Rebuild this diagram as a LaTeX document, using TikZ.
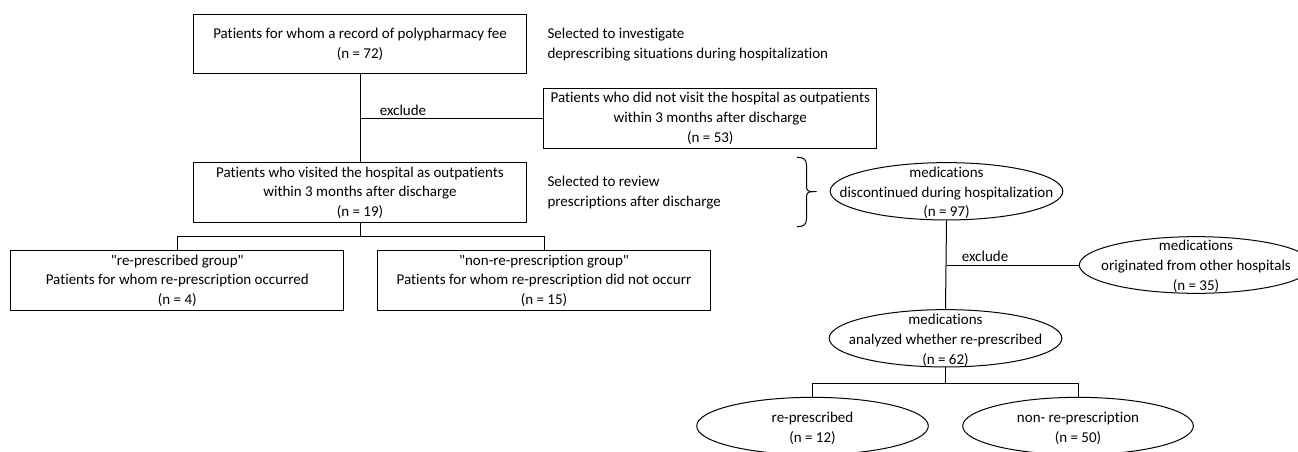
\documentclass[tikz,border=0pt]{standalone}
\usepackage{fontspec}
\setmainfont[RawFeature={-liga}]{Carlito}
\usetikzlibrary{shapes.geometric}
\begin{document}
\begin{tikzpicture}[x=0.75pt,y=-0.75pt,
  font=\fontsize{11.25}{14.8}\selectfont,
  line width=0.75pt,
  rbox/.style={draw, rectangle, inner sep=0pt, align=center,
     minimum width=250pt, minimum height=44.6pt},
  ell/.style={draw, ellipse, inner sep=0pt, minimum width=174.5pt, minimum height=43pt},
  etxt/.style={inner sep=0pt, align=center},
  side/.style={inner sep=0pt, align=left, anchor=west},
  lbl/.style={inner sep=0pt}]
\useasboundingbox (0,0) rectangle (1298,452);
\clip (0,0) rectangle (1298,452);
\fill[white] (0,0) rectangle (1298,452);

% left column
\node[rbox] (b1) at (360,44.2) {Patients for whom a record of polypharmacy fee\\(n = 72)};
\node[side] (s1) at (547,44.5) {Selected to investigate\\deprescribing situations during hospitalization};
\node[rbox] (bx) at (710.3,118.5) {Patients who did not visit the hospital as outpatients\\within 3 months after discharge\\(n = 53)};
\node[rbox] (b2) at (360,192.7) {Patients who visited the hospital as outpatients\\within 3 months after discharge\\(n = 19)};
\node[side] (s2) at (547,192.5) {Selected to review\\prescriptions after discharge};
\node[rbox] (b3) at (177.3,280.7) {\textquotedbl re-prescribed group\textquotedbl\\Patients for whom re-prescription occurred\\(n = 4)};
\node[rbox] (b4) at (544,280.7) {\textquotedbl non-re-prescription group\textquotedbl\\Patients for whom re-prescription did not occurr\\(n = 15)};

\coordinate (j1) at (b1.south |- bx.west);
\draw (b1.south) -- (b2.north);
\draw (j1) -- (bx.west);
\node[lbl] (x1) at (403,110) {exclude};

\coordinate (br1) at (360,236.7);
\draw (b2.south) -- (br1);
\draw (b3.north) |- (br1) -| (b4.north);

% brace
\draw (797,157.3) .. controls (803,157.3) and (806.5,159) .. (806.5,165)
  -- (806.5,186) .. controls (806.5,190) and (808,191.7) .. (812,191.7) -- (816.6,191.7);
\draw (812,191.7) .. controls (808,191.7) and (806.5,193.4) .. (806.5,197.4)
  -- (806.5,219) .. controls (806.5,225) and (803,226.7) .. (797,226.7);

% right column
\node[ell] (e1) at (946.5,191.3) {};
\node[etxt] (e1t) at (946.5,193) {medications\\discontinued during hospitalization\\(n = 97)};
\node[ell, minimum width=175pt, minimum height=42.5pt] (e2) at (1196,265) {};
\node[etxt] (e2t) at (1196,266.5) {medications\\originated from other hospitals\\(n = 35)};
\node[ell] (e3) at (945.5,338.3) {};
\node[etxt] (e3t) at (945.5,340.5) {medications\\analyzed whether re-prescribed\\(n = 62)};
\node[ell, minimum width=173.7pt] (e4) at (812.5,426) {};
\node[etxt] (e4t) at (812.5,428.5) {re-prescribed\\(n = 12)};
\node[ell, minimum width=173pt] (e5) at (1078,426) {};
\node[etxt] (e5t) at (1078,428.5) {non- re-prescription\\(n = 50)};

\coordinate (j2) at (e1.south |- e2.west);
\draw (e1.south) -- (e3.north);
\draw (j2) -- (e2.west);
\node[lbl] (x2) at (985,256) {exclude};

\coordinate (br2) at (945.5,383.3);
\draw (e3.south) -- (br2);
\draw (e4.north) |- (br2) -| (e5.north);
\end{tikzpicture}
\end{document}
